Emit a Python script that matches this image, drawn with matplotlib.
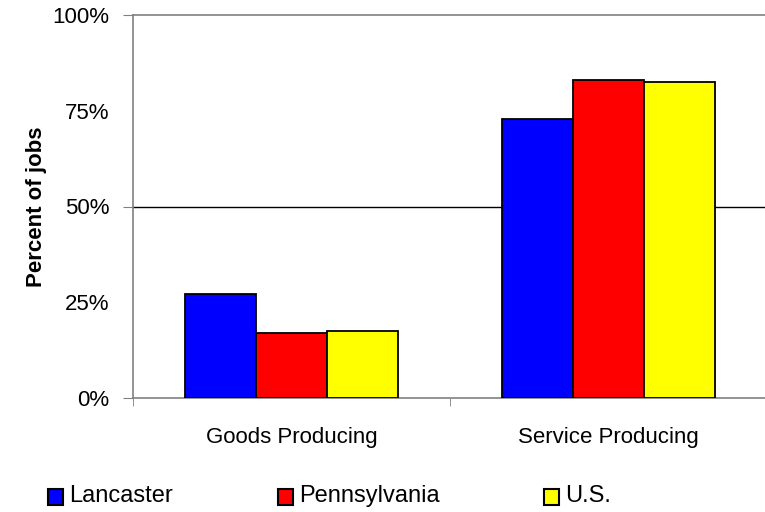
import matplotlib
matplotlib.use("Agg")
import matplotlib.pyplot as plt
from matplotlib.patches import Rectangle
import numpy as np

plt.rcParams['font.family'] = ['Liberation Sans', 'DejaVu Sans']

categories = ["Goods Producing", "Service Producing"]
series_names = ["Lancaster", "Pennsylvania", "U.S."]
lancaster = [27.2, 72.8]
pennsylvania = [17.0, 83.0]
us = [17.4, 82.6]
series_colors = ["#0000FF", "#FF0000", "#FFFF00"]
y_ticks = [0, 25, 50, 75, 100]
y_tick_labels = ["0%", "25%", "50%", "75%", "100%"]

W, H = 765, 512
fig = plt.figure(figsize=(W / 100, H / 100), dpi=100)
ax = fig.add_axes([133 / W, (H - 398) / H, (767 - 133) / W, (398 - 15) / H])

x = np.arange(len(categories))
bar_w = 0.224
values = [lancaster, pennsylvania, us]
for i, (vals, col) in enumerate(zip(values, series_colors)):
    ax.bar(x + (i - 1) * bar_w, vals, width=bar_w, color=col,
           edgecolor="black", linewidth=1.3, zorder=3)

ax.set_xlim(-0.5, len(categories) - 0.5)
ax.set_ylim(0, 100)

# horizontal gridlines
ax.axhline(50, color="black", linewidth=1.0, zorder=1)
ax.axhline(100, color="#808080", linewidth=1.2, zorder=1, clip_on=False)

for s in ["top", "right"]:
    ax.spines[s].set_visible(False)
for s in ["left", "bottom"]:
    ax.spines[s].set_color("#808080")
    ax.spines[s].set_linewidth(1.2)

ax.set_yticks(y_ticks)
ax.set_yticklabels(y_tick_labels, fontsize=16)
ax.tick_params(axis="y", length=7, color="#808080", pad=10)
# tick marks only at the gridline levels
for val, tick in zip(y_ticks, ax.yaxis.get_major_ticks()):
    if val % 50 != 0:
        tick.tick1line.set_visible(False)

ax.set_xticks(x)
ax.set_xticklabels(categories, fontsize=16)
ax.tick_params(axis="x", length=0, pad=21)
ax.set_xticks([-0.5, 0.5, 1.5], minor=True)
ax.tick_params(axis="x", which="minor", length=6, color="#808080")

ax.set_ylabel("Percent of jobs", fontsize=16, fontweight="bold", labelpad=4)

# legend row at the bottom
legend_x = [48, 278, 544]
for name, col, lx in zip(series_names, series_colors, legend_x):
    fig.patches.append(Rectangle((lx / W, (H - 505) / H), 15 / W, 16 / H,
                                 transform=fig.transFigure, facecolor=col,
                                 edgecolor="black", linewidth=1.5))
    fig.text((lx + 21) / W, (H - 496) / H, name, fontsize=17,
             va="center", ha="left")

fig.savefig("out.png", dpi=100)
